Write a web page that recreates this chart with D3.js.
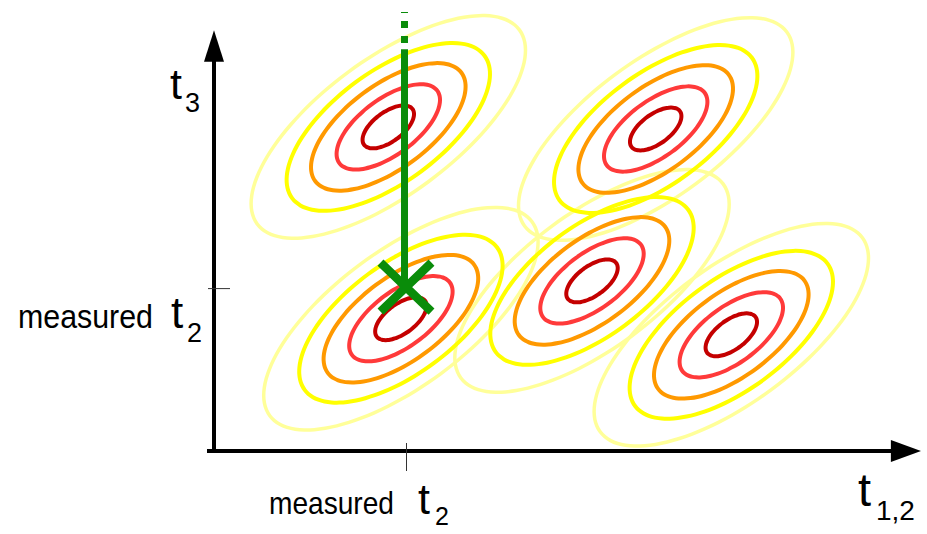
<!DOCTYPE html>
<html>
<head>
<meta charset="utf-8">
<script src="https://cdn.jsdelivr.net/npm/d3@7"></script>
<style>
  html, body { margin: 0; padding: 0; background: #fff; }
  text { font-family: "Liberation Sans", Arial, sans-serif; fill: #000; }
</style>
</head>
<body>
<div id="chart"></div>
<script>
// cluster centres (t1,2 , t3) of the five peaks
var clusterT12 = [24.9, 26.7, 63.1, 54.0, 73.9];
var clusterT3 = [46.3, 18.9, 46.0, 24.3, 16.6];

// contour levels, outermost first: semi-axes along / across the tilt
var levelNames = ["10%", "30%", "50%", "70%", "90%"];
var levelMajor = [23.3, 17.1, 13.0, 8.7, 4.3];
var levelMinor = [9.7, 7.9, 6.0, 4.0, 2.1];
var levelColors = ["#ffff99", "#ffff00", "#ff9900", "#ff3a3a", "#c40000"];
var tiltDeg = 36.5;

// measured t2 and the green cut through t3
var measuredT12 = 27.5;
var measuredT3 = 23.2;
var cutTop = 62.7, cutSolid = 57.4;

var width = 927, height = 534;

var svg = d3.select('#chart').append('svg')
    .attr('width', width)
    .attr('height', height);

var x = d3.scaleLinear().domain([0, 100]).range([214, 914]),
    y = d3.scaleLinear().domain([0, 60]).range([451, 31]);

var line = d3.line()
    .x(function(d) { return x(d[0]); })
    .y(function(d) { return y(d[1]); })
    .curve(d3.curveCardinalClosed);

// points of one tilted ellipse in data units
function ellipse(cx, cy, a, b) {
  var th = tiltDeg * Math.PI / 180;
  return d3.range(0, 64).map(function(i) {
    var p = i / 64 * 2 * Math.PI;
    return [cx + a * Math.cos(p) * Math.cos(th) - b * Math.sin(p) * Math.sin(th),
            cy + a * Math.cos(p) * Math.sin(th) + b * Math.sin(p) * Math.cos(th)];
  });
}

// contours, one layer per level so the pale rings sit underneath
var contours = svg.append('g').attr('class', 'contours');
levelNames.forEach(function(name, li) {
  contours.append('g')
      .attr('class', 'level')
    .selectAll('path')
    .data(clusterT12)
    .enter().append('path')
      .attr('d', function(d, i) { return line(ellipse(d, clusterT3[i], levelMajor[li], levelMinor[li])); })
      .attr('fill', 'none')
      .attr('stroke', levelColors[li])
      .attr('stroke-width', li == 0 ? 3.5 : 4);
});

// axes with arrow heads
var axes = svg.append('g').attr('class', 'axes');
axes.append('line')
    .attr('x1', x(-1)).attr('x2', x(97))
    .attr('y1', y(0)).attr('y2', y(0))
    .attr('stroke', '#000').attr('stroke-width', 4);
axes.append('path')
    .attr('d', 'M' + x(96.7) + ',' + (y(0) - 11) + 'L' + x(101) + ',' + y(0) + 'L' + x(96.7) + ',' + (y(0) + 11) + 'Z')
    .attr('fill', '#000');
axes.append('line')
    .attr('x1', x(0)).attr('x2', x(0))
    .attr('y1', y(0) + 2).attr('y2', y(55.9))
    .attr('stroke', '#000').attr('stroke-width', 4);
axes.append('path')
    .attr('d', 'M' + (x(0) - 10) + ',' + y(55.6) + 'L' + x(0) + ',' + y(60.1) + 'L' + (x(0) + 10) + ',' + y(55.6) + 'Z')
    .attr('fill', '#000');

// ticks at the measured value
axes.append('line')
    .attr('x1', x(measuredT12)).attr('x2', x(measuredT12))
    .attr('y1', y(0) - 8).attr('y2', y(0) + 20)
    .attr('stroke', '#333').attr('stroke-width', 1);
axes.append('line')
    .attr('x1', x(0) - 6).attr('x2', x(0) + 16)
    .attr('y1', y(measuredT3)).attr('y2', y(measuredT3))
    .attr('stroke', '#333').attr('stroke-width', 1);

// green cut line and the X where it hits
var green = '#0a8c0a';
var cut = svg.append('g').attr('class', 'cut');
cut.append('line')
    .attr('x1', x(measuredT12) - 2).attr('x2', x(measuredT12) - 2)
    .attr('y1', y(cutTop)).attr('y2', y(cutSolid))
    .attr('stroke', green).attr('stroke-width', 7)
    .attr('stroke-dasharray', '7 8').attr('stroke-dashoffset', 6);
cut.append('line')
    .attr('x1', x(measuredT12) - 2).attr('x2', x(measuredT12) - 2)
    .attr('y1', y(cutSolid)).attr('y2', y(measuredT3) - 2)
    .attr('stroke', green).attr('stroke-width', 7);
var cx = x(measuredT12) - 1, cy = y(measuredT3) - 2;
cut.append('path')
    .attr('d', 'M' + (cx - 25) + ',' + (cy - 24) + 'L' + (cx + 26) + ',' + (cy + 25) +
               'M' + (cx + 26) + ',' + (cy - 24) + 'L' + (cx - 25) + ',' + (cy + 25))
    .attr('stroke', green).attr('stroke-width', 8.5).attr('fill', 'none');

// labels
function label(px, py, main, sub, mainSize, subSize, subX, subDy) {
  var g = svg.append('g');
  g.append('text').attr('x', px).attr('y', py).style('font-size', mainSize + 'px').text(main);
  g.append('text').attr('x', subX).attr('y', py + subDy).style('font-size', subSize + 'px').text(sub);
}
function word(px, py, size, len, txt) {
  svg.append('text').attr('x', px).attr('y', py).style('font-size', size + 'px')
      .attr('textLength', len).attr('lengthAdjust', 'spacingAndGlyphs').text(txt);
}
label(170, 99, 't', '3', 43, 27, 185, 13);
label(858, 506, 't', '1,2', 47, 28, 876, 14);

word(18, 328, 34, 135, 'measured');
label(171, 328, 't', '2', 44, 27, 187, 14);
word(269, 514, 32, 125, 'measured');
label(418, 514, 't', '2', 43, 25, 435, 11);
</script>
</body>
</html>
